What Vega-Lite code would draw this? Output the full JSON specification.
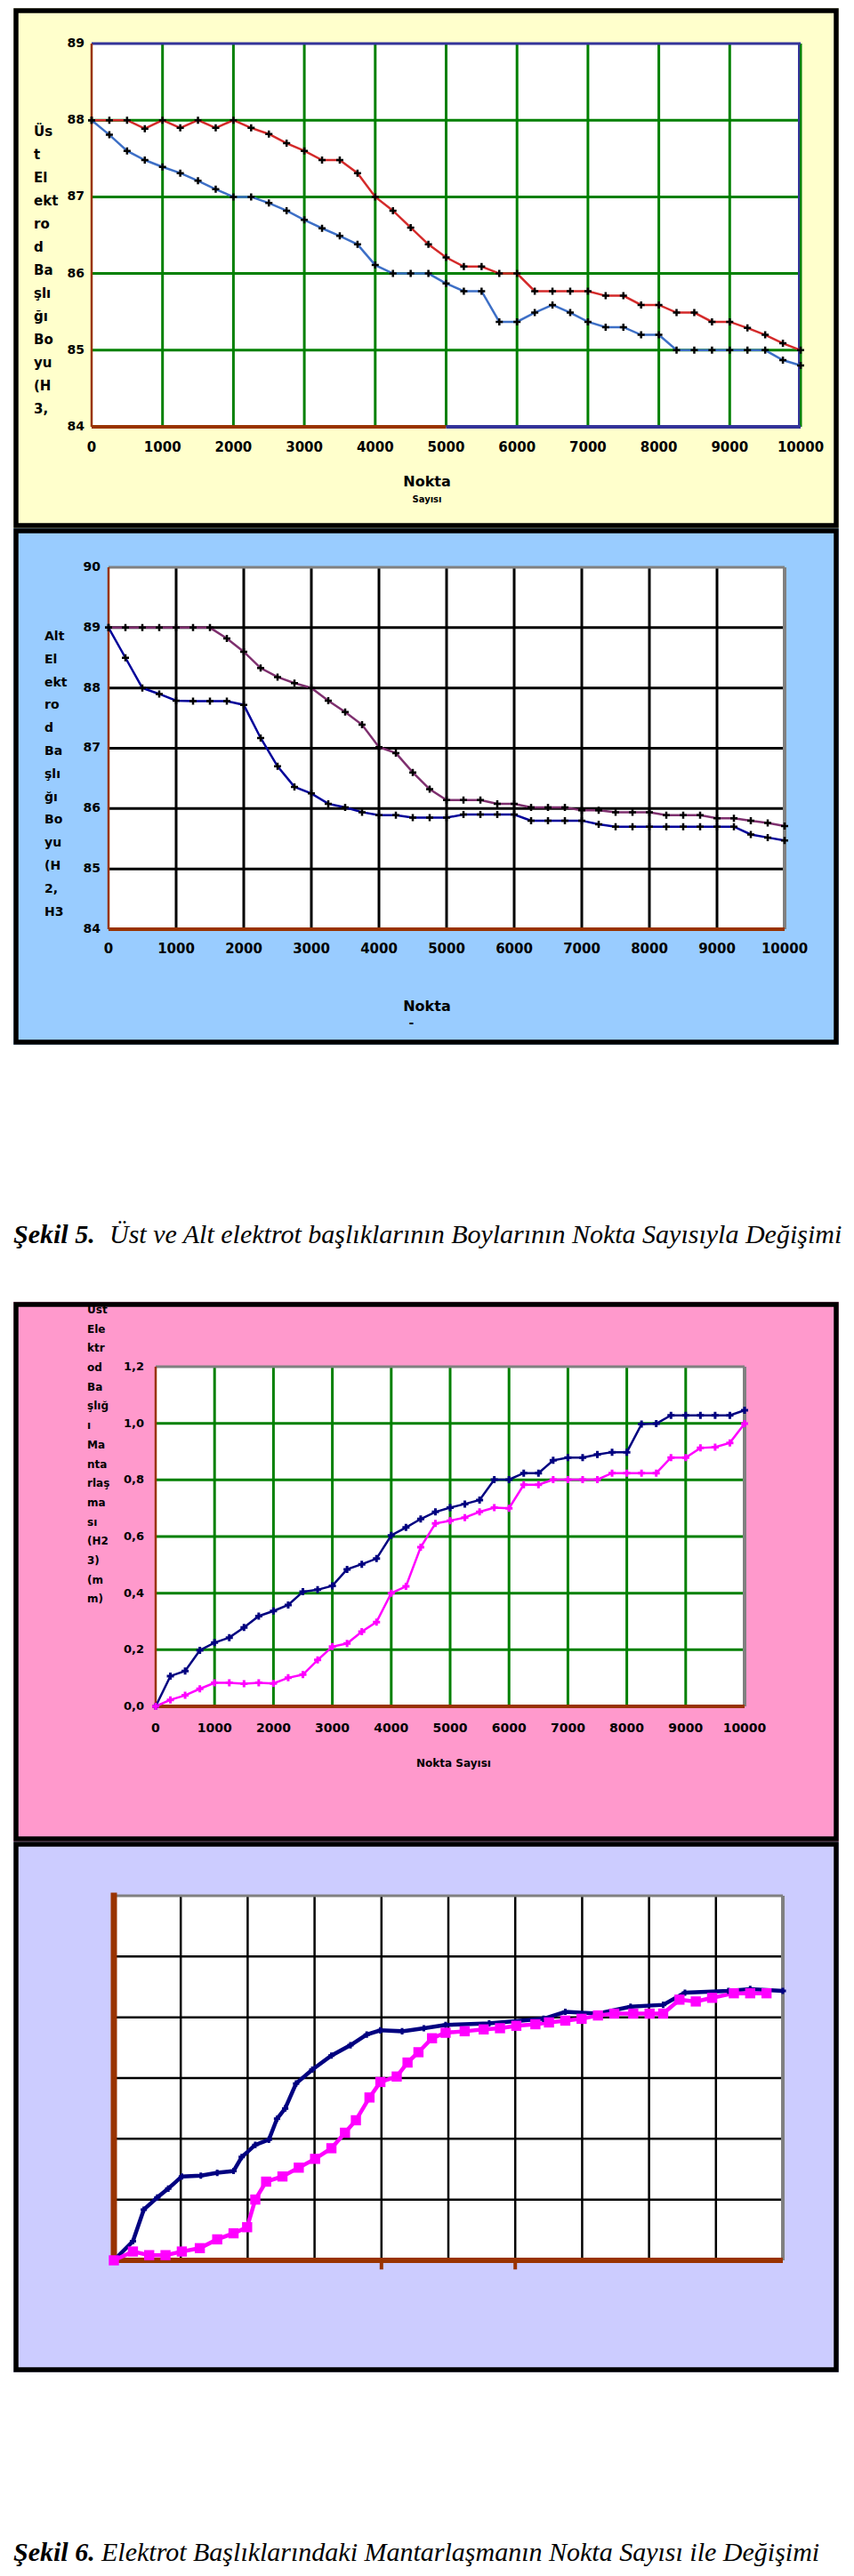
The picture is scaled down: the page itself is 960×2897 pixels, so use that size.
{
"$schema": "https://vega.github.io/schema/vega-lite/v6.json",
"background": "#FFFFFF",
"padding": {"left": 15, "top": 9, "right": 0, "bottom": 0},
"spacing": 0,
"resolve": {"scale": {"color": "independent"}},
"config": {"view": {"stroke": null}, "axis": {"disable": true}, "text": {"font": "DejaVu Sans", "color": "#000000"}},
"datasets": {
"p1": [
{"x":0,"y":88.0,"s":"a"},{"x":250,"y":88.0,"s":"a"},{"x":500,"y":88.0,"s":"a"},{"x":750,"y":87.89,"s":"a"},{"x":1000,"y":88.0,"s":"a"},{"x":1250,"y":87.9,"s":"a"},{"x":1500,"y":88.0,"s":"a"},{"x":1750,"y":87.9,"s":"a"},{"x":2000,"y":88.0,"s":"a"},{"x":2250,"y":87.9,"s":"a"},{"x":2500,"y":87.82,"s":"a"},{"x":2750,"y":87.7,"s":"a"},{"x":3000,"y":87.6,"s":"a"},{"x":3250,"y":87.48,"s":"a"},{"x":3500,"y":87.48,"s":"a"},{"x":3750,"y":87.31,"s":"a"},{"x":4000,"y":87.0,"s":"a"},{"x":4250,"y":86.82,"s":"a"},{"x":4500,"y":86.6,"s":"a"},{"x":4750,"y":86.38,"s":"a"},{"x":5000,"y":86.21,"s":"a"},{"x":5250,"y":86.09,"s":"a"},{"x":5500,"y":86.09,"s":"a"},{"x":5750,"y":86.0,"s":"a"},{"x":6000,"y":86.0,"s":"a"},{"x":6250,"y":85.77,"s":"a"},{"x":6500,"y":85.77,"s":"a"},{"x":6750,"y":85.77,"s":"a"},{"x":7000,"y":85.77,"s":"a"},{"x":7250,"y":85.71,"s":"a"},{"x":7500,"y":85.71,"s":"a"},{"x":7750,"y":85.59,"s":"a"},{"x":8000,"y":85.59,"s":"a"},{"x":8250,"y":85.49,"s":"a"},{"x":8500,"y":85.49,"s":"a"},{"x":8750,"y":85.37,"s":"a"},{"x":9000,"y":85.37,"s":"a"},{"x":9250,"y":85.29,"s":"a"},{"x":9500,"y":85.2,"s":"a"},{"x":9750,"y":85.09,"s":"a"},{"x":10000,"y":85.0,"s":"a"},
{"x":0,"y":88.0,"s":"b"},{"x":250,"y":87.81,"s":"b"},{"x":500,"y":87.6,"s":"b"},{"x":750,"y":87.48,"s":"b"},{"x":1000,"y":87.39,"s":"b"},{"x":1250,"y":87.31,"s":"b"},{"x":1500,"y":87.21,"s":"b"},{"x":1750,"y":87.1,"s":"b"},{"x":2000,"y":87.0,"s":"b"},{"x":2250,"y":87.0,"s":"b"},{"x":2500,"y":86.92,"s":"b"},{"x":2750,"y":86.82,"s":"b"},{"x":3000,"y":86.7,"s":"b"},{"x":3250,"y":86.59,"s":"b"},{"x":3500,"y":86.49,"s":"b"},{"x":3750,"y":86.38,"s":"b"},{"x":4000,"y":86.11,"s":"b"},{"x":4250,"y":86.0,"s":"b"},{"x":4500,"y":86.0,"s":"b"},{"x":4750,"y":86.0,"s":"b"},{"x":5000,"y":85.87,"s":"b"},{"x":5250,"y":85.77,"s":"b"},{"x":5500,"y":85.77,"s":"b"},{"x":5750,"y":85.37,"s":"b"},{"x":6000,"y":85.37,"s":"b"},{"x":6250,"y":85.49,"s":"b"},{"x":6500,"y":85.59,"s":"b"},{"x":6750,"y":85.49,"s":"b"},{"x":7000,"y":85.37,"s":"b"},{"x":7250,"y":85.3,"s":"b"},{"x":7500,"y":85.3,"s":"b"},{"x":7750,"y":85.2,"s":"b"},{"x":8000,"y":85.2,"s":"b"},{"x":8250,"y":85.0,"s":"b"},{"x":8500,"y":85.0,"s":"b"},{"x":8750,"y":85.0,"s":"b"},{"x":9000,"y":85.0,"s":"b"},{"x":9250,"y":85.0,"s":"b"},{"x":9500,"y":85.0,"s":"b"},{"x":9750,"y":84.87,"s":"b"},{"x":10000,"y":84.8,"s":"b"}
],
"p2": [
{"x":0,"y":89.0,"s":"a"},{"x":250,"y":89.0,"s":"a"},{"x":500,"y":89.0,"s":"a"},{"x":750,"y":89.0,"s":"a"},{"x":1000,"y":89.0,"s":"a"},{"x":1250,"y":89.0,"s":"a"},{"x":1500,"y":89.0,"s":"a"},{"x":1750,"y":88.82,"s":"a"},{"x":2000,"y":88.6,"s":"a"},{"x":2250,"y":88.33,"s":"a"},{"x":2500,"y":88.18,"s":"a"},{"x":2750,"y":88.08,"s":"a"},{"x":3000,"y":88.0,"s":"a"},{"x":3250,"y":87.79,"s":"a"},{"x":3500,"y":87.6,"s":"a"},{"x":3750,"y":87.39,"s":"a"},{"x":4000,"y":87.02,"s":"a"},{"x":4250,"y":86.92,"s":"a"},{"x":4500,"y":86.6,"s":"a"},{"x":4750,"y":86.32,"s":"a"},{"x":5000,"y":86.14,"s":"a"},{"x":5250,"y":86.14,"s":"a"},{"x":5500,"y":86.14,"s":"a"},{"x":5750,"y":86.08,"s":"a"},{"x":6000,"y":86.08,"s":"a"},{"x":6250,"y":86.02,"s":"a"},{"x":6500,"y":86.02,"s":"a"},{"x":6750,"y":86.02,"s":"a"},{"x":7000,"y":85.97,"s":"a"},{"x":7250,"y":85.97,"s":"a"},{"x":7500,"y":85.94,"s":"a"},{"x":7750,"y":85.94,"s":"a"},{"x":8000,"y":85.94,"s":"a"},{"x":8250,"y":85.89,"s":"a"},{"x":8500,"y":85.89,"s":"a"},{"x":8750,"y":85.89,"s":"a"},{"x":9000,"y":85.84,"s":"a"},{"x":9250,"y":85.84,"s":"a"},{"x":9500,"y":85.8,"s":"a"},{"x":9750,"y":85.76,"s":"a"},{"x":10000,"y":85.71,"s":"a"},
{"x":0,"y":89.0,"s":"b"},{"x":250,"y":88.5,"s":"b"},{"x":500,"y":88.0,"s":"b"},{"x":750,"y":87.9,"s":"b"},{"x":1000,"y":87.79,"s":"b"},{"x":1250,"y":87.78,"s":"b"},{"x":1500,"y":87.78,"s":"b"},{"x":1750,"y":87.78,"s":"b"},{"x":2000,"y":87.72,"s":"b"},{"x":2250,"y":87.17,"s":"b"},{"x":2500,"y":86.7,"s":"b"},{"x":2750,"y":86.36,"s":"b"},{"x":3000,"y":86.25,"s":"b"},{"x":3250,"y":86.08,"s":"b"},{"x":3500,"y":86.02,"s":"b"},{"x":3750,"y":85.94,"s":"b"},{"x":4000,"y":85.89,"s":"b"},{"x":4250,"y":85.89,"s":"b"},{"x":4500,"y":85.85,"s":"b"},{"x":4750,"y":85.85,"s":"b"},{"x":5000,"y":85.85,"s":"b"},{"x":5250,"y":85.9,"s":"b"},{"x":5500,"y":85.9,"s":"b"},{"x":5750,"y":85.9,"s":"b"},{"x":6000,"y":85.9,"s":"b"},{"x":6250,"y":85.8,"s":"b"},{"x":6500,"y":85.8,"s":"b"},{"x":6750,"y":85.8,"s":"b"},{"x":7000,"y":85.8,"s":"b"},{"x":7250,"y":85.74,"s":"b"},{"x":7500,"y":85.7,"s":"b"},{"x":7750,"y":85.7,"s":"b"},{"x":8000,"y":85.7,"s":"b"},{"x":8250,"y":85.7,"s":"b"},{"x":8500,"y":85.7,"s":"b"},{"x":8750,"y":85.7,"s":"b"},{"x":9000,"y":85.7,"s":"b"},{"x":9250,"y":85.7,"s":"b"},{"x":9500,"y":85.57,"s":"b"},{"x":9750,"y":85.52,"s":"b"},{"x":10000,"y":85.47,"s":"b"}
],
"p3": [
{"x":0,"y":0.0,"s":"a"},{"x":250,"y":0.107,"s":"a"},{"x":500,"y":0.125,"s":"a"},{"x":750,"y":0.198,"s":"a"},{"x":1000,"y":0.225,"s":"a"},{"x":1250,"y":0.243,"s":"a"},{"x":1500,"y":0.279,"s":"a"},{"x":1750,"y":0.319,"s":"a"},{"x":2000,"y":0.337,"s":"a"},{"x":2250,"y":0.358,"s":"a"},{"x":2500,"y":0.405,"s":"a"},{"x":2750,"y":0.412,"s":"a"},{"x":3000,"y":0.426,"s":"a"},{"x":3250,"y":0.484,"s":"a"},{"x":3500,"y":0.502,"s":"a"},{"x":3750,"y":0.522,"s":"a"},{"x":4000,"y":0.604,"s":"a"},{"x":4250,"y":0.632,"s":"a"},{"x":4500,"y":0.662,"s":"a"},{"x":4750,"y":0.687,"s":"a"},{"x":5000,"y":0.702,"s":"a"},{"x":5250,"y":0.715,"s":"a"},{"x":5500,"y":0.729,"s":"a"},{"x":5750,"y":0.801,"s":"a"},{"x":6000,"y":0.801,"s":"a"},{"x":6250,"y":0.824,"s":"a"},{"x":6500,"y":0.824,"s":"a"},{"x":6750,"y":0.869,"s":"a"},{"x":7000,"y":0.879,"s":"a"},{"x":7250,"y":0.879,"s":"a"},{"x":7500,"y":0.89,"s":"a"},{"x":7750,"y":0.898,"s":"a"},{"x":8000,"y":0.898,"s":"a"},{"x":8250,"y":0.997,"s":"a"},{"x":8500,"y":0.999,"s":"a"},{"x":8750,"y":1.028,"s":"a"},{"x":9000,"y":1.028,"s":"a"},{"x":9250,"y":1.028,"s":"a"},{"x":9500,"y":1.028,"s":"a"},{"x":9750,"y":1.028,"s":"a"},{"x":10000,"y":1.046,"s":"a"},
{"x":0,"y":0.0,"s":"b"},{"x":250,"y":0.023,"s":"b"},{"x":500,"y":0.039,"s":"b"},{"x":750,"y":0.062,"s":"b"},{"x":1000,"y":0.083,"s":"b"},{"x":1250,"y":0.083,"s":"b"},{"x":1500,"y":0.08,"s":"b"},{"x":1750,"y":0.083,"s":"b"},{"x":2000,"y":0.081,"s":"b"},{"x":2250,"y":0.101,"s":"b"},{"x":2500,"y":0.112,"s":"b"},{"x":2750,"y":0.164,"s":"b"},{"x":3000,"y":0.211,"s":"b"},{"x":3250,"y":0.222,"s":"b"},{"x":3500,"y":0.264,"s":"b"},{"x":3750,"y":0.298,"s":"b"},{"x":4000,"y":0.4,"s":"b"},{"x":4250,"y":0.424,"s":"b"},{"x":4500,"y":0.562,"s":"b"},{"x":4750,"y":0.646,"s":"b"},{"x":5000,"y":0.656,"s":"b"},{"x":5250,"y":0.667,"s":"b"},{"x":5500,"y":0.687,"s":"b"},{"x":5750,"y":0.702,"s":"b"},{"x":6000,"y":0.7,"s":"b"},{"x":6250,"y":0.783,"s":"b"},{"x":6500,"y":0.783,"s":"b"},{"x":6750,"y":0.801,"s":"b"},{"x":7000,"y":0.801,"s":"b"},{"x":7250,"y":0.801,"s":"b"},{"x":7500,"y":0.801,"s":"b"},{"x":7750,"y":0.824,"s":"b"},{"x":8000,"y":0.824,"s":"b"},{"x":8250,"y":0.824,"s":"b"},{"x":8500,"y":0.824,"s":"b"},{"x":8750,"y":0.879,"s":"b"},{"x":9000,"y":0.879,"s":"b"},{"x":9250,"y":0.913,"s":"b"},{"x":9500,"y":0.916,"s":"b"},{"x":9750,"y":0.931,"s":"b"},{"x":10000,"y":0.999,"s":"b"}
],
"p4": [
{"x":0,"y":0.0,"s":"a"},{"x":285,"y":0.063,"s":"a"},{"x":447,"y":0.167,"s":"a"},{"x":650,"y":0.207,"s":"a"},{"x":813,"y":0.236,"s":"a"},{"x":1016,"y":0.276,"s":"a"},{"x":1300,"y":0.279,"s":"a"},{"x":1545,"y":0.288,"s":"a"},{"x":1789,"y":0.294,"s":"a"},{"x":1911,"y":0.34,"s":"a"},{"x":2114,"y":0.38,"s":"a"},{"x":2317,"y":0.397,"s":"a"},{"x":2439,"y":0.466,"s":"a"},{"x":2561,"y":0.5,"s":"a"},{"x":2724,"y":0.582,"s":"a"},{"x":2967,"y":0.628,"s":"a"},{"x":3252,"y":0.674,"s":"a"},{"x":3537,"y":0.708,"s":"a"},{"x":3780,"y":0.743,"s":"a"},{"x":3984,"y":0.757,"s":"a"},{"x":4309,"y":0.754,"s":"a"},{"x":4634,"y":0.764,"s":"a"},{"x":4959,"y":0.775,"s":"a"},{"x":5610,"y":0.78,"s":"a"},{"x":6423,"y":0.795,"s":"a"},{"x":6748,"y":0.818,"s":"a"},{"x":7236,"y":0.812,"s":"a"},{"x":7724,"y":0.835,"s":"a"},{"x":8211,"y":0.841,"s":"a"},{"x":8537,"y":0.881,"s":"a"},{"x":9187,"y":0.887,"s":"a"},{"x":9512,"y":0.893,"s":"a"},{"x":10000,"y":0.887,"s":"a"},
{"x":0,"y":0.0,"s":"b"},{"x":285,"y":0.029,"s":"b"},{"x":528,"y":0.017,"s":"b"},{"x":772,"y":0.017,"s":"b"},{"x":1016,"y":0.029,"s":"b"},{"x":1285,"y":0.04,"s":"b"},{"x":1545,"y":0.069,"s":"b"},{"x":1789,"y":0.089,"s":"b"},{"x":1992,"y":0.109,"s":"b"},{"x":2114,"y":0.2,"s":"b"},{"x":2276,"y":0.259,"s":"b"},{"x":2520,"y":0.276,"s":"b"},{"x":2764,"y":0.305,"s":"b"},{"x":3008,"y":0.334,"s":"b"},{"x":3252,"y":0.369,"s":"b"},{"x":3455,"y":0.42,"s":"b"},{"x":3618,"y":0.461,"s":"b"},{"x":3821,"y":0.536,"s":"b"},{"x":3984,"y":0.587,"s":"b"},{"x":4228,"y":0.605,"s":"b"},{"x":4390,"y":0.651,"s":"b"},{"x":4553,"y":0.685,"s":"b"},{"x":4756,"y":0.731,"s":"b"},{"x":4959,"y":0.749,"s":"b"},{"x":5244,"y":0.754,"s":"b"},{"x":5528,"y":0.76,"s":"b"},{"x":5772,"y":0.764,"s":"b"},{"x":6016,"y":0.772,"s":"b"},{"x":6301,"y":0.777,"s":"b"},{"x":6504,"y":0.783,"s":"b"},{"x":6748,"y":0.789,"s":"b"},{"x":6992,"y":0.795,"s":"b"},{"x":7236,"y":0.806,"s":"b"},{"x":7480,"y":0.812,"s":"b"},{"x":7764,"y":0.812,"s":"b"},{"x":8008,"y":0.812,"s":"b"},{"x":8211,"y":0.812,"s":"b"},{"x":8455,"y":0.858,"s":"b"},{"x":8699,"y":0.852,"s":"b"},{"x":8943,"y":0.864,"s":"b"},{"x":9268,"y":0.879,"s":"b"},{"x":9512,"y":0.879,"s":"b"},{"x":9756,"y":0.879,"s":"b"}
]
},
"vconcat": [
{
"width": 928, "height": 585,
"view": {"fill": "#FFFFCC", "stroke": null},
"data": {"values": [{}]},
"layer": [
{"mark": {"type": "rect", "fill": null, "stroke": "#000000", "strokeWidth": 5.5}, "encoding": {"x": {"datum": -1066.5, "type": "quantitative", "scale": {"domain": [-1104.1, 10539.5], "nice": false, "zero": false}, "axis": null}, "x2": {"datum": 10501.9}, "y": {"datum": 82.7123, "type": "quantitative", "scale": {"domain": [82.6775, 89.464], "nice": false, "zero": false}, "axis": null}, "y2": {"datum": 89.4292}}},
{"mark": {"type": "rect", "color": "#FFFFFF"}, "encoding": {"x": {"datum": 0}, "x2": {"datum": 10000}, "y": {"datum": 84}, "y2": {"datum": 89}}},
{"data": {"values": [{"v":1000},{"v":2000},{"v":3000},{"v":4000},{"v":5000},{"v":6000},{"v":7000},{"v":8000},{"v":9000},{"v":10000}]}, "mark": {"type": "rule", "color": "#008000", "strokeWidth": 3}, "encoding": {"x": {"field": "v", "type": "quantitative"}, "y": {"datum": 84}, "y2": {"datum": 89}}},
{"data": {"values": [{"v":85},{"v":86},{"v":87},{"v":88}]}, "mark": {"type": "rule", "color": "#008000", "strokeWidth": 3}, "encoding": {"y": {"field": "v", "type": "quantitative"}, "x": {"datum": 0}, "x2": {"datum": 10000}}},
{"mark": {"type": "rule", "color": "#333399", "strokeWidth": 3}, "encoding": {"y": {"datum": 89}, "x": {"datum": 0}, "x2": {"datum": 10000}}},
{"mark": {"type": "rule", "color": "#333399", "strokeWidth": 2, "xOffset": -2}, "encoding": {"x": {"datum": 10000}, "y": {"datum": 84}, "y2": {"datum": 89}}},
{"mark": {"type": "rule", "color": "#993300", "strokeWidth": 2.5}, "encoding": {"x": {"datum": 0}, "y": {"datum": 84}, "y2": {"datum": 89}}},
{"mark": {"type": "rule", "color": "#993300", "strokeWidth": 4}, "encoding": {"y": {"datum": 84}, "x": {"datum": 0}, "x2": {"datum": 5000}}},
{"mark": {"type": "rule", "color": "#333399", "strokeWidth": 4}, "encoding": {"y": {"datum": 84}, "x": {"datum": 5000}, "x2": {"datum": 10000}}},
{"data": {"name": "p1"}, "mark": {"type": "line", "strokeWidth": 2.5}, "encoding": {"x": {"field": "x", "type": "quantitative"}, "y": {"field": "y", "type": "quantitative"}, "color": {"field": "s", "type": "nominal", "scale": {"domain": ["a", "b"], "range": ["#D42A2A", "#3D6FC6"]}, "legend": null}}},
{"data": {"name": "p1"}, "mark": {"type": "point", "shape": "M-1,0L1,0M0,-1L0,1", "filled": false, "color": "#000000", "strokeWidth": 2.5, "size": 64, "opacity": 1}, "encoding": {"x": {"field": "x", "type": "quantitative"}, "y": {"field": "y", "type": "quantitative"}}},
{"data": {"values": [{"v":84},{"v":85},{"v":86},{"v":87},{"v":88},{"v":89}]}, "mark": {"type": "text", "align": "right", "baseline": "middle", "fontWeight": "bold", "fontSize": 14}, "encoding": {"x": {"datum": -100}, "y": {"field": "v", "type": "quantitative"}, "text": {"field": "v", "type": "quantitative", "format": "d"}}},
{"data": {"values": [{"v":0},{"v":1000},{"v":2000},{"v":3000},{"v":4000},{"v":5000},{"v":6000},{"v":7000},{"v":8000},{"v":9000},{"v":10000}]}, "mark": {"type": "text", "align": "center", "baseline": "middle", "fontWeight": "bold", "fontSize": 15}, "encoding": {"x": {"field": "v", "type": "quantitative"}, "y": {"datum": 83.733}, "text": {"field": "v", "type": "quantitative", "format": "d"}}},
{"mark": {"type": "text", "align": "center", "baseline": "middle", "fontWeight": "bold", "fontSize": 16}, "encoding": {"x": {"datum": 4730}, "y": {"datum": 83.281}, "text": {"value": "Nokta"}}},
{"mark": {"type": "text", "align": "center", "baseline": "middle", "fontWeight": "bold", "fontSize": 10}, "encoding": {"x": {"datum": 4730}, "y": {"datum": 83.05}, "text": {"value": "Sayısı"}}},
{"mark": {"type": "text", "align": "left", "baseline": "alphabetic", "fontWeight": "bold", "fontSize": 15, "lineHeight": 26}, "encoding": {"x": {"datum": -815.6}, "y": {"datum": 87.7935}, "text": {"value": ["Üs", "t", "El", "ekt", "ro", "d", "Ba", "şlı", "ğı", "Bo", "yu", "(H", "3,"]}}}
]
},
{
"width": 928, "height": 581,
"view": {"fill": "#99CCFF", "stroke": null},
"data": {"values": [{}]},
"layer": [
{"mark": {"type": "rect", "fill": null, "stroke": "#000000", "strokeWidth": 5.5}, "encoding": {"x": {"datum": -1368.4, "type": "quantitative", "scale": {"domain": [-1407.9, 10802.6], "nice": false, "zero": false}, "axis": null}, "x2": {"datum": 10763.1}, "y": {"datum": 82.1276, "type": "quantitative", "scale": {"domain": [82.0834, 90.6487], "nice": false, "zero": false}, "axis": null}, "y2": {"datum": 90.6045}}},
{"mark": {"type": "rect", "color": "#FFFFFF"}, "encoding": {"x": {"datum": 0}, "x2": {"datum": 10000}, "y": {"datum": 84}, "y2": {"datum": 90}}},
{"data": {"values": [{"v":1000},{"v":2000},{"v":3000},{"v":4000},{"v":5000},{"v":6000},{"v":7000},{"v":8000},{"v":9000}]}, "mark": {"type": "rule", "color": "#000000", "strokeWidth": 3}, "encoding": {"x": {"field": "v", "type": "quantitative"}, "y": {"datum": 84}, "y2": {"datum": 90}}},
{"data": {"values": [{"v":85},{"v":86},{"v":87},{"v":88},{"v":89}]}, "mark": {"type": "rule", "color": "#000000", "strokeWidth": 3}, "encoding": {"y": {"field": "v", "type": "quantitative"}, "x": {"datum": 0}, "x2": {"datum": 10000}}},
{"mark": {"type": "rule", "color": "#808080", "strokeWidth": 3}, "encoding": {"y": {"datum": 90}, "x": {"datum": 0}, "x2": {"datum": 10000}}},
{"mark": {"type": "rule", "color": "#808080", "strokeWidth": 4}, "encoding": {"x": {"datum": 10000}, "y": {"datum": 84}, "y2": {"datum": 90}}},
{"mark": {"type": "rule", "color": "#993300", "strokeWidth": 2.5}, "encoding": {"x": {"datum": 0}, "y": {"datum": 84}, "y2": {"datum": 90}}},
{"mark": {"type": "rule", "color": "#993300", "strokeWidth": 4}, "encoding": {"y": {"datum": 84}, "x": {"datum": 0}, "x2": {"datum": 10000}}},
{"data": {"name": "p2"}, "mark": {"type": "line", "strokeWidth": 2.5}, "encoding": {"x": {"field": "x", "type": "quantitative"}, "y": {"field": "y", "type": "quantitative"}, "color": {"field": "s", "type": "nominal", "scale": {"domain": ["a", "b"], "range": ["#7E2F6E", "#000099"]}, "legend": null}}},
{"data": {"name": "p2"}, "mark": {"type": "point", "shape": "M-1,0L1,0M0,-1L0,1", "filled": false, "color": "#000000", "strokeWidth": 2.5, "size": 64, "opacity": 1}, "encoding": {"x": {"field": "x", "type": "quantitative"}, "y": {"field": "y", "type": "quantitative"}}},
{"data": {"values": [{"v":84},{"v":85},{"v":86},{"v":87},{"v":88},{"v":89},{"v":90}]}, "mark": {"type": "text", "align": "right", "baseline": "middle", "fontWeight": "bold", "fontSize": 14}, "encoding": {"x": {"datum": -118}, "y": {"field": "v", "type": "quantitative"}, "text": {"field": "v", "type": "quantitative", "format": "d"}}},
{"data": {"values": [{"v":0},{"v":1000},{"v":2000},{"v":3000},{"v":4000},{"v":5000},{"v":6000},{"v":7000},{"v":8000},{"v":9000},{"v":10000}]}, "mark": {"type": "text", "align": "center", "baseline": "middle", "fontWeight": "bold", "fontSize": 15}, "encoding": {"x": {"field": "v", "type": "quantitative"}, "y": {"datum": 83.675}, "text": {"field": "v", "type": "quantitative", "format": "d"}}},
{"mark": {"type": "text", "align": "center", "baseline": "middle", "fontWeight": "bold", "fontSize": 16}, "encoding": {"x": {"datum": 4710}, "y": {"datum": 82.717}, "text": {"value": "Nokta"}}},
{"mark": {"type": "text", "align": "center", "baseline": "middle", "fontWeight": "bold", "fontSize": 14}, "encoding": {"x": {"datum": 4480}, "y": {"datum": 82.43}, "text": {"value": "-"}}},
{"mark": {"type": "text", "align": "left", "baseline": "alphabetic", "fontWeight": "bold", "fontSize": 14, "lineHeight": 25.8}, "encoding": {"x": {"datum": -947}, "y": {"datum": 88.791}, "text": {"value": ["Alt", "El", "ekt", "ro", "d", "Ba", "şlı", "ğı", "Bo", "yu", "(H", "2,", "H3"]}}}
]
},
{
"width": 928, "height": 289,
"data": {"values": [{}]},
"layer": [
{"mark": {"type": "text", "align": "left", "baseline": "alphabetic", "font": "Liberation Serif", "fontStyle": "italic", "fontWeight": "bold", "fontSize": 30}, "encoding": {"x": {"datum": 0, "type": "quantitative", "scale": {"domain": [0, 1], "nice": false, "zero": false}, "axis": null}, "y": {"datum": 0.2284, "type": "quantitative", "scale": {"domain": [0, 1], "nice": false, "zero": false}, "axis": null}, "text": {"value": "Şekil 5."}}},
{"mark": {"type": "text", "align": "left", "baseline": "alphabetic", "font": "Liberation Serif", "fontStyle": "italic", "fontSize": 30}, "encoding": {"x": {"datum": 0.1164}, "y": {"datum": 0.2284}, "text": {"value": "Üst ve Alt elektrot başlıklarının Boylarının Nokta Sayısıyla Değişimi"}}}
]
},
{
"width": 928, "height": 607,
"view": {"fill": "#FF99CC", "stroke": null},
"data": {"values": [{}]},
"layer": [
{"mark": {"type": "rect", "fill": null, "stroke": "#000000", "strokeWidth": 5.5}, "encoding": {"x": {"datum": -2371.6, "type": "quantitative", "scale": {"domain": [-2416.9, 11601.2], "nice": false, "zero": false}, "axis": null}, "x2": {"datum": 11555.9}, "y": {"datum": -0.4681, "type": "quantitative", "scale": {"domain": [-0.4775, 1.4293], "nice": false, "zero": false}, "axis": null}, "y2": {"datum": 1.4199}}},
{"mark": {"type": "rect", "color": "#FFFFFF"}, "encoding": {"x": {"datum": 0}, "x2": {"datum": 10000}, "y": {"datum": 0}, "y2": {"datum": 1.2}}},
{"data": {"values": [{"v":1000},{"v":2000},{"v":3000},{"v":4000},{"v":5000},{"v":6000},{"v":7000},{"v":8000},{"v":9000}]}, "mark": {"type": "rule", "color": "#008000", "strokeWidth": 3}, "encoding": {"x": {"field": "v", "type": "quantitative"}, "y": {"datum": 0}, "y2": {"datum": 1.2}}},
{"data": {"values": [{"v":0.2},{"v":0.4},{"v":0.6},{"v":0.8},{"v":1.0}]}, "mark": {"type": "rule", "color": "#008000", "strokeWidth": 3}, "encoding": {"y": {"field": "v", "type": "quantitative"}, "x": {"datum": 0}, "x2": {"datum": 10000}}},
{"mark": {"type": "rule", "color": "#808080", "strokeWidth": 3}, "encoding": {"y": {"datum": 1.2}, "x": {"datum": 0}, "x2": {"datum": 10000}}},
{"mark": {"type": "rule", "color": "#808080", "strokeWidth": 4}, "encoding": {"x": {"datum": 10000}, "y": {"datum": 0}, "y2": {"datum": 1.2}}},
{"mark": {"type": "rule", "color": "#993300", "strokeWidth": 2.5}, "encoding": {"x": {"datum": 0}, "y": {"datum": 0}, "y2": {"datum": 1.2}}},
{"mark": {"type": "rule", "color": "#993300", "strokeWidth": 4}, "encoding": {"y": {"datum": 0}, "x": {"datum": 0}, "x2": {"datum": 10000}}},
{"data": {"name": "p3"}, "mark": {"type": "line", "strokeWidth": 2.5}, "encoding": {"x": {"field": "x", "type": "quantitative"}, "y": {"field": "y", "type": "quantitative"}, "color": {"field": "s", "type": "nominal", "scale": {"domain": ["a", "b"], "range": ["#000080", "#FF00FF"]}, "legend": null}}},
{"data": {"name": "p3"}, "mark": {"type": "point", "shape": "M-1,0L1,0M0,-1L0,1", "filled": false, "strokeWidth": 3, "size": 64, "opacity": 1}, "encoding": {"x": {"field": "x", "type": "quantitative"}, "y": {"field": "y", "type": "quantitative"}, "color": {"field": "s", "type": "nominal", "legend": null}}},
{"data": {"values": [{"v":0,"t":"0,0"},{"v":0.2,"t":"0,2"},{"v":0.4,"t":"0,4"},{"v":0.6,"t":"0,6"},{"v":0.8,"t":"0,8"},{"v":1.0,"t":"1,0"},{"v":1.2,"t":"1,2"}]}, "mark": {"type": "text", "align": "right", "baseline": "middle", "fontWeight": "bold", "fontSize": 13}, "encoding": {"x": {"datum": -196}, "y": {"field": "v", "type": "quantitative"}, "text": {"field": "t", "type": "nominal"}}},
{"data": {"values": [{"v":0},{"v":1000},{"v":2000},{"v":3000},{"v":4000},{"v":5000},{"v":6000},{"v":7000},{"v":8000},{"v":9000},{"v":10000}]}, "mark": {"type": "text", "align": "center", "baseline": "middle", "fontWeight": "bold", "fontSize": 14}, "encoding": {"x": {"field": "v", "type": "quantitative"}, "y": {"datum": -0.0785}, "text": {"field": "v", "type": "quantitative", "format": "d"}}},
{"mark": {"type": "text", "align": "center", "baseline": "middle", "fontWeight": "bold", "fontSize": 12}, "encoding": {"x": {"datum": 5060}, "y": {"datum": -0.201}, "text": {"value": "Nokta Sayısı"}}},
{"mark": {"type": "text", "align": "left", "baseline": "alphabetic", "fontWeight": "bold", "fontSize": 12, "lineHeight": 21.7}, "encoding": {"x": {"datum": -1163}, "y": {"datum": 1.3885}, "text": {"value": ["Üst", "Ele", "ktr", "od", "Ba", "şlığ", "ı", "Ma", "nta", "rlaş", "ma", "sı", "(H2", "3)", "(m", "m)"]}}}
]
},
{
"width": 928, "height": 597,
"view": {"fill": "#CCCCFF", "stroke": null},
"data": {"values": [{}]},
"layer": [
{"mark": {"type": "rect", "fill": null, "stroke": "#000000", "strokeWidth": 5.5}, "encoding": {"x": {"datum": -1462.8, "type": "quantitative", "scale": {"domain": [-1502.7, 10837.8], "nice": false, "zero": false}, "axis": null}, "x2": {"datum": 10797.9}, "y": {"datum": -0.36, "type": "quantitative", "scale": {"domain": [-0.3688, 1.3785], "nice": false, "zero": false}, "axis": null}, "y2": {"datum": 1.3697}}},
{"mark": {"type": "rect", "color": "#FFFFFF"}, "encoding": {"x": {"datum": 0}, "x2": {"datum": 10000}, "y": {"datum": 0}, "y2": {"datum": 1.2}}},
{"data": {"values": [{"v":1000},{"v":2000},{"v":3000},{"v":4000},{"v":5000},{"v":6000},{"v":7000},{"v":8000},{"v":9000}]}, "mark": {"type": "rule", "color": "#000000", "strokeWidth": 2.5}, "encoding": {"x": {"field": "v", "type": "quantitative"}, "y": {"datum": 0}, "y2": {"datum": 1.2}}},
{"data": {"values": [{"v":0.2},{"v":0.4},{"v":0.6},{"v":0.8},{"v":1.0}]}, "mark": {"type": "rule", "color": "#000000", "strokeWidth": 2.5}, "encoding": {"y": {"field": "v", "type": "quantitative"}, "x": {"datum": 0}, "x2": {"datum": 10000}}},
{"mark": {"type": "rule", "color": "#808080", "strokeWidth": 3}, "encoding": {"y": {"datum": 1.2}, "x": {"datum": 0}, "x2": {"datum": 10000}}},
{"mark": {"type": "rule", "color": "#808080", "strokeWidth": 4}, "encoding": {"x": {"datum": 10000}, "y": {"datum": 0}, "y2": {"datum": 1.2}}},
{"mark": {"type": "rule", "color": "#993300", "strokeWidth": 7}, "encoding": {"x": {"datum": 0}, "y": {"datum": -0.015}, "y2": {"datum": 1.21}}},
{"mark": {"type": "rule", "color": "#993300", "strokeWidth": 6}, "encoding": {"y": {"datum": 0}, "x": {"datum": 0}, "x2": {"datum": 10000}}},
{"data": {"values": [{"v":4000},{"v":6000}]}, "mark": {"type": "rule", "color": "#993300", "strokeWidth": 4}, "encoding": {"x": {"field": "v", "type": "quantitative"}, "y": {"datum": 0}, "y2": {"datum": -0.03}}},
{"data": {"name": "p4"}, "mark": {"type": "line", "strokeWidth": 4.5}, "encoding": {"x": {"field": "x", "type": "quantitative"}, "y": {"field": "y", "type": "quantitative"}, "color": {"field": "s", "type": "nominal", "scale": {"domain": ["a", "b"], "range": ["#000080", "#FF00FF"]}, "legend": null}}},
{"data": {"name": "p4"}, "transform": [{"filter": "datum.s == 'a'"}], "mark": {"type": "point", "shape": "M-1,0L1,0M0,-1L0,1", "filled": false, "color": "#000080", "strokeWidth": 3, "size": 50, "opacity": 1}, "encoding": {"x": {"field": "x", "type": "quantitative"}, "y": {"field": "y", "type": "quantitative"}}},
{"data": {"name": "p4"}, "transform": [{"filter": "datum.s == 'b'"}], "mark": {"type": "square", "filled": true, "color": "#FF00FF", "size": 130, "opacity": 1}, "encoding": {"x": {"field": "x", "type": "quantitative"}, "y": {"field": "y", "type": "quantitative"}}}
]
},
{
"width": 928, "height": 229,
"data": {"values": [{}]},
"layer": [
{"mark": {"type": "text", "align": "left", "baseline": "alphabetic", "font": "Liberation Serif", "fontStyle": "italic", "fontWeight": "bold", "fontSize": 30}, "encoding": {"x": {"datum": 0, "type": "quantitative", "scale": {"domain": [0, 1], "nice": false, "zero": false}, "axis": null}, "y": {"datum": 0.0742, "type": "quantitative", "scale": {"domain": [0, 1], "nice": false, "zero": false}, "axis": null}, "text": {"value": "Şekil 6."}}},
{"mark": {"type": "text", "align": "left", "baseline": "alphabetic", "font": "Liberation Serif", "fontStyle": "italic", "fontSize": 30}, "encoding": {"x": {"datum": 0.1067}, "y": {"datum": 0.0742}, "text": {"value": "Elektrot Başlıklarındaki Mantarlaşmanın Nokta Sayısı ile Değişimi"}}}
]
}
]
}
